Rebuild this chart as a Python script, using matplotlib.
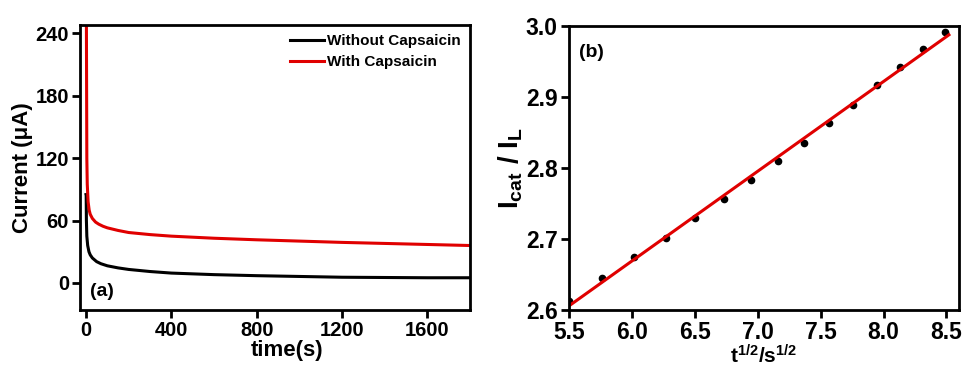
import numpy as np
import matplotlib
matplotlib.use("Agg")
import matplotlib.pyplot as plt

plt.rcParams['font.family'] = ['Liberation Sans', 'DejaVu Sans']
plt.rcParams['font.weight'] = 'bold'
plt.rcParams['mathtext.fontset'] = 'custom'
plt.rcParams['mathtext.rm'] = 'Liberation Sans:bold'
plt.rcParams['mathtext.bf'] = 'Liberation Sans:bold'
plt.rcParams['mathtext.it'] = 'Liberation Sans:bold'

# --- panel (a): chronoamperometry ---
t_without = [0, 1, 2, 4, 8, 14, 20, 30, 50, 70, 100, 150, 200, 300, 400, 600, 800, 1200, 1600, 1800]
i_without = [85, 84, 60, 45, 36, 30, 27, 24, 20.5, 18.5, 16.5, 14.5, 13, 11, 9.5, 8, 7, 5.5, 5, 5]

t_with = [0, 2, 4, 6, 10, 15, 20, 30, 45, 60, 80, 100, 150, 200, 300, 400, 600, 800, 1200, 1600, 1800]
i_with = [300, 250, 120, 95, 78, 70, 66, 62, 58.5, 56.5, 54.5, 53, 50.5, 48.5, 46.5, 45, 43, 41.5, 39, 37, 36]

# --- panel (b): Icat/IL vs t^1/2 ---
sqrt_t = [5.5, 5.76, 6.02, 6.27, 6.5, 6.73, 6.95, 7.16, 7.37, 7.57, 7.76, 7.95, 8.13, 8.31, 8.49]
ratio = [2.612, 2.645, 2.674, 2.702, 2.730, 2.757, 2.783, 2.810, 2.835, 2.863,
         2.889, 2.917, 2.942, 2.967, 2.991]

fig = plt.figure(figsize=(9.63, 3.69), dpi=100)
ax1 = fig.add_axes([80 / 963, 1 - 310 / 369, 390 / 963, 285 / 369])
ax2 = fig.add_axes([569 / 963, 1 - 310 / 369, 390 / 963, 284 / 369])

ax1.plot(t_without, i_without, color='black', lw=2.2, label='Without Capsaicin')
ax1.plot(t_with, i_with, color='#e00000', lw=2.2, label='With Capsaicin')
ax1.set_xlim(-28, 1800)
ax1.set_ylim(-26, 248)
ax1.set_xticks([0, 400, 800, 1200, 1600])
ax1.set_yticks([0, 60, 120, 180, 240])
ax1.set_xlabel('time(s)', fontsize=16, fontweight='bold', labelpad=0)
ax1.xaxis.label.set_x(0.53)
ax1.set_ylabel('Current (\u03bcA)', fontsize=16, fontweight='bold', labelpad=2)
ax1.text(0.025, 0.05, '(a)', transform=ax1.transAxes, fontsize=14, fontweight='bold')
leg = ax1.legend(loc='upper right', frameon=False, fontsize=11, handlelength=2.2,
                 handletextpad=0.2, borderaxespad=0.2, labelspacing=0.45)
for txt in leg.get_texts():
    txt.set_fontweight('bold')

fit = np.polyfit(sqrt_t, ratio, 1)
xf = np.array([5.5, 8.52])
ax2.plot(sqrt_t, ratio, 'o', color='black', ms=4.5)
ax2.plot(xf, np.polyval(fit, xf), color='#e00000', lw=2.2)
ax2.set_xlim(5.5, 8.6)
ax2.set_ylim(2.6, 3.0)
ax2.set_xticks([5.5, 6.0, 6.5, 7.0, 7.5, 8.0, 8.5])
ax2.set_yticks([2.6, 2.7, 2.8, 2.9, 3.0])
ax2.set_xlabel(r'$\mathregular{t^{1/2}/s^{1/2}}$', fontsize=15, fontweight='bold', labelpad=0)
ax2.set_ylabel(r'$\mathregular{I_{cat}\ /\ I_L}$', fontsize=20, fontweight='bold', labelpad=1)
ax2.text(0.025, 0.89, '(b)', transform=ax2.transAxes, fontsize=14, fontweight='bold')

for ax, ls in ((ax1, 14.5), (ax2, 16.5)):
    for s in ax.spines.values():
        s.set_linewidth(2)
    ax.tick_params(direction='out', length=6, width=2, labelsize=ls, pad=2)
    for lab in ax.get_xticklabels() + ax.get_yticklabels():
        lab.set_fontweight('bold')

fig.savefig('out.png', dpi=100)
